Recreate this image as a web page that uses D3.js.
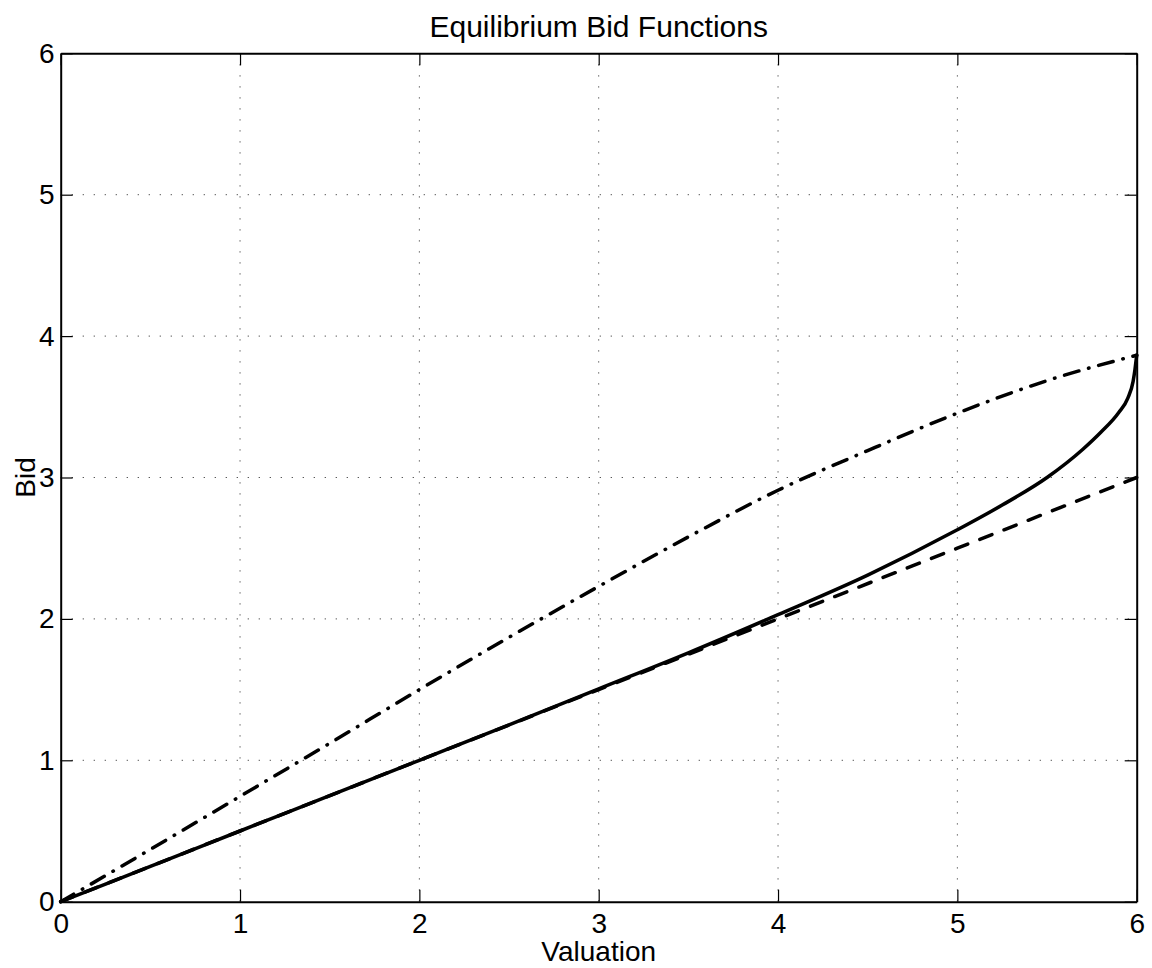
<!DOCTYPE html>
<html>
<head>
<meta charset="utf-8">
<script src="https://cdn.jsdelivr.net/npm/d3@7"></script>
<style>
  html, body { margin: 0; padding: 0; background: #fff; }
  svg text { font-family: "Liberation Sans", Arial, Helvetica, sans-serif; fill: #000; }
</style>
</head>
<body>
<div id="chart"></div>
<script>
// ---------- data
const xTicks = [0, 1, 2, 3, 4, 5, 6]
const yTicks = [0, 1, 2, 3, 4, 5, 6]

// dashed: b = v/2
const dashedV = [0, 1, 2, 3, 4, 5, 6]
const dashedB = [0, 0.5, 1, 1.5, 2, 2.5, 3]

// solid
const solidV = [0, 0.5, 1, 1.5, 2, 2.5, 3, 3.5, 4, 4.5, 5, 5.25, 5.5, 5.7, 5.8, 5.9, 5.95, 5.98, 5.99, 6]
const solidB = [0, 0.25, 0.5, 0.75, 1.0, 1.25, 1.505, 1.76, 2.03, 2.31, 2.63, 2.805, 3.0, 3.2, 3.32, 3.46, 3.56, 3.68, 3.76, 3.866]

// dash-dot
const dashDotV = [0, 0.5, 1, 1.5, 2, 2.5, 3, 3.5, 4, 4.5, 5, 5.5, 6]
const dashDotB = [0, 0.37, 0.745, 1.12, 1.5, 1.87, 2.23, 2.58, 2.91, 3.19, 3.455, 3.685, 3.865]

// ---------- dimensions
const dims = {
    width: 1152,
    height: 968,
    margin: { top: 53.3, right: 15.3, bottom: 66.3, left: 60.7 }
}
dims.boundedWidth = dims.width - dims.margin.left - dims.margin.right
dims.boundedHeight = dims.height - dims.margin.top - dims.margin.bottom

const svg = d3.select("#chart").append("svg")
    .attr("width", dims.width)
    .attr("height", dims.height)

const bounds = svg.append("g")
    .attr("transform", `translate(${dims.margin.left},${dims.margin.top})`)

// ---------- scales
const xScale = d3.scaleLinear().domain([0, 6]).range([0, dims.boundedWidth])
const yScale = d3.scaleLinear().domain([0, 6]).range([dims.boundedHeight, 0])

// ---------- grid
const grid = bounds.append("g")
grid.selectAll(".gx")
    .data(xTicks.slice(1, -1))
    .join("line")
    .attr("x1", d => xScale(d)).attr("x2", d => xScale(d))
    .attr("y1", 0).attr("y2", dims.boundedHeight)
grid.selectAll(".gy")
    .data(yTicks.slice(1, -1))
    .join("line")
    .attr("x1", 0).attr("x2", dims.boundedWidth)
    .attr("y1", d => yScale(d)).attr("y2", d => yScale(d))
grid.selectAll("line")
    .attr("stroke", "#444")
    .attr("stroke-width", 1)
    .attr("stroke-dasharray", "1.2,9.8")

// ---------- axes (ticks inside, mirrored)
const tickLen = 12
const fontSize = 28
const fmt = d3.format("d")

const xAxisBottom = bounds.append("g")
    .attr("transform", `translate(0,${dims.boundedHeight})`)
    .call(d3.axisBottom(xScale).tickValues(xTicks).tickFormat(fmt).tickSizeInner(-tickLen).tickSizeOuter(0).tickPadding(11))
const xAxisTop = bounds.append("g")
    .call(d3.axisTop(xScale).tickValues(xTicks).tickSizeInner(-tickLen).tickSizeOuter(0).tickFormat(""))
const yAxisLeft = bounds.append("g")
    .call(d3.axisLeft(yScale).tickValues(yTicks).tickFormat(fmt).tickSizeInner(-tickLen).tickSizeOuter(0).tickPadding(6))
const yAxisRight = bounds.append("g")
    .attr("transform", `translate(${dims.boundedWidth},0)`)
    .call(d3.axisRight(yScale).tickValues(yTicks).tickSizeInner(-tickLen).tickSizeOuter(0).tickFormat(""))

;[xAxisBottom, xAxisTop, yAxisLeft, yAxisRight].forEach(ax => {
    ax.attr("font-size", fontSize).attr("font-family", "'Liberation Sans', Arial, sans-serif")
    ax.select(".domain").attr("stroke", "#000").attr("stroke-width", 2)
    ax.selectAll(".tick line").attr("stroke", "#000").attr("stroke-width", 1.2)
    ax.selectAll("text").attr("fill", "#000")
})

// ---------- lines
const lineGen = d3.line()
    .x(d => xScale(d[0]))
    .y(d => yScale(d[1]))

const series = [
    { v: dashedV, b: dashedB, dash: "13,13", curve: d3.curveLinear },
    { v: dashDotV, b: dashDotB, dash: "15,10,0.5,10", curve: d3.curveMonotoneX },
    { v: solidV, b: solidB, dash: null, curve: d3.curveMonotoneX }
]

bounds.append("g").selectAll("path")
    .data(series)
    .join("path")
    .attr("d", s => lineGen.curve(s.curve)(s.v.map((v, i) => [v, s.b[i]])))
    .attr("fill", "none")
    .attr("stroke", "#000")
    .attr("stroke-width", 3.5)
    .attr("stroke-linecap", "round")
    .attr("stroke-linejoin", "round")
    .attr("stroke-dasharray", s => s.dash)

// ---------- labels
svg.append("text")
    .attr("x", dims.margin.left + dims.boundedWidth / 2)
    .attr("y", 37)
    .attr("text-anchor", "middle")
    .style("font-size", "30px")
    .text("Equilibrium Bid Functions")

svg.append("text")
    .attr("x", dims.margin.left + dims.boundedWidth / 2)
    .attr("y", 961)
    .attr("text-anchor", "middle")
    .style("font-size", fontSize + "px")
    .text("Valuation")

svg.append("text")
    .attr("transform", `translate(35,${dims.margin.top + dims.boundedHeight / 2}) rotate(-90)`)
    .attr("text-anchor", "middle")
    .style("font-size", fontSize + "px")
    .text("Bid")
</script>
</body>
</html>
